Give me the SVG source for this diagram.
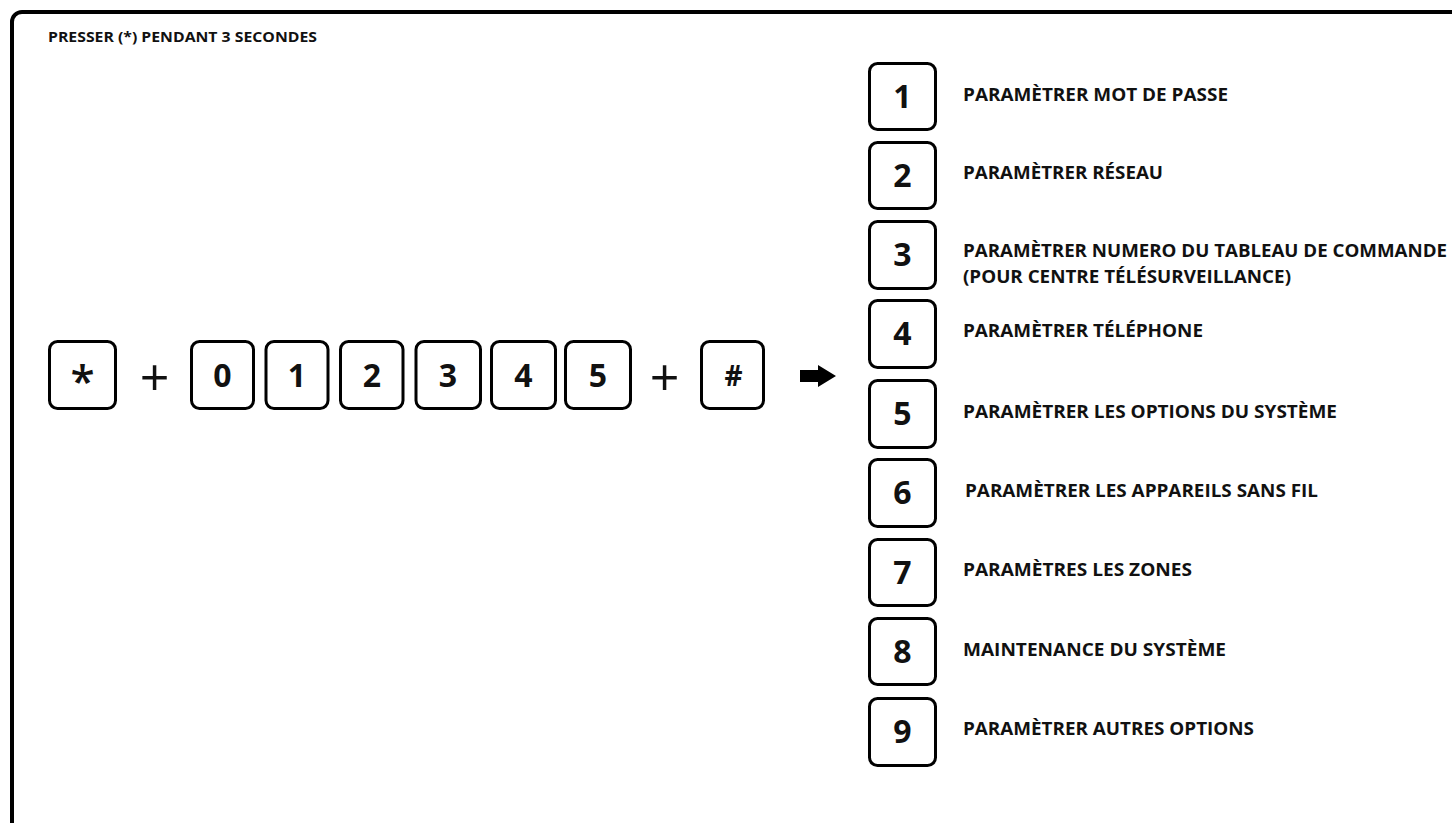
<svg xmlns="http://www.w3.org/2000/svg" width="1452" height="823" viewBox="0 0 1452 823">
<style>
.frame{fill:none;stroke:#000;stroke-width:4}
.key{fill:#fff;stroke:#000;stroke-width:3}
.d{font-family:"Open Sans","Noto Sans",sans-serif;font-weight:700;font-size:32px;fill:#111;text-anchor:middle}
.star{font-size:44px;font-weight:600}
.hash{font-size:28px}
.lab{font-family:"Open Sans","Noto Sans",sans-serif;font-weight:700;font-size:18px;fill:#111}
.top{font-family:"Open Sans","Noto Sans",sans-serif;font-weight:700;font-size:14.5px;fill:#111}
.plus{font-family:"Open Sans","Noto Sans",sans-serif;font-weight:400;font-size:52px;fill:#111;text-anchor:middle}
</style>
<rect width="1452" height="823" fill="#fff"/>
<rect class="frame" x="12" y="12" width="1470" height="840" rx="10"/>
<text class="top" x="48" y="42" textLength="269" lengthAdjust="spacingAndGlyphs">PRESSER (*) PENDANT 3 SECONDES</text>

<g id="key-star"><rect class="key" x="49.5" y="341.5" width="66" height="67" rx="8"/><text class="d star" x="82.5" y="397">*</text></g>
<text class="plus" x="154.5" y="396">+</text>
<g id="key-0"><rect class="key" x="191.5" y="341.5" width="62" height="67" rx="8"/><text class="d" x="222.5" y="387">0</text></g>
<g id="key-1"><rect class="key" x="266" y="341.5" width="62" height="67" rx="8"/><text class="d" x="297" y="387">1</text></g>
<g id="key-2"><rect class="key" x="340.5" y="341.5" width="62.5" height="67" rx="8"/><text class="d" x="372" y="387">2</text></g>
<g id="key-3"><rect class="key" x="416" y="341.5" width="64.5" height="67" rx="8"/><text class="d" x="448" y="387">3</text></g>
<g id="key-4"><rect class="key" x="491.5" y="341.5" width="64" height="67" rx="8"/><text class="d" x="523.5" y="387">4</text></g>
<g id="key-5"><rect class="key" x="565.5" y="341.5" width="65" height="67" rx="8"/><text class="d" x="598" y="387">5</text></g>
<text class="plus" x="664.5" y="396">+</text>
<g id="key-hash"><rect class="key" x="701.5" y="341.5" width="62" height="67" rx="8"/><text class="d hash" x="733.5" y="386">#</text></g>
<g id="connectors"><polygon points="800,370 818,370 818,365 836,376 818,387 818,382 800,382" fill="#000"/></g>

<g id="opt-1"><rect class="key" x="869.5" y="63.5" width="66" height="66" rx="8"/><text class="d" x="902.5" y="108">1</text><text class="lab" x="963" y="101" textLength="265" lengthAdjust="spacingAndGlyphs">PARAMÈTRER MOT DE PASSE</text></g>
<g id="opt-2"><rect class="key" x="869.5" y="142.5" width="66" height="66" rx="8"/><text class="d" x="902.5" y="187">2</text><text class="lab" x="963" y="179" textLength="200" lengthAdjust="spacingAndGlyphs">PARAMÈTRER RÉSEAU</text></g>
<g id="opt-3"><rect class="key" x="869.5" y="221.5" width="66" height="67" rx="8"/><text class="d" x="902.5" y="266">3</text><text class="lab" x="963" y="257" textLength="484" lengthAdjust="spacingAndGlyphs">PARAMÈTRER NUMERO DU TABLEAU DE COMMANDE</text><text class="lab" x="963" y="283" textLength="328" lengthAdjust="spacingAndGlyphs">(POUR CENTRE TÉLÉSURVEILLANCE)</text></g>
<g id="opt-4"><rect class="key" x="869.5" y="300.5" width="66" height="67" rx="8"/><text class="d" x="902.5" y="345">4</text><text class="lab" x="963" y="337" textLength="240" lengthAdjust="spacingAndGlyphs">PARAMÈTRER TÉLÉPHONE</text></g>
<g id="opt-5"><rect class="key" x="869.5" y="380.5" width="66" height="67" rx="8"/><text class="d" x="902.5" y="425">5</text><text class="lab" x="963" y="418" textLength="374" lengthAdjust="spacingAndGlyphs">PARAMÈTRER LES OPTIONS DU SYSTÈME</text></g>
<g id="opt-6"><rect class="key" x="869.5" y="459.5" width="66" height="67" rx="8"/><text class="d" x="902.5" y="504">6</text><text class="lab" x="965" y="497" textLength="353" lengthAdjust="spacingAndGlyphs">PARAMÈTRER LES APPAREILS SANS FIL</text></g>
<g id="opt-7"><rect class="key" x="869.5" y="539.5" width="66" height="66" rx="8"/><text class="d" x="902.5" y="584">7</text><text class="lab" x="963" y="576" textLength="229" lengthAdjust="spacingAndGlyphs">PARAMÈTRES LES ZONES</text></g>
<g id="opt-8"><rect class="key" x="869.5" y="618.5" width="66" height="66" rx="8"/><text class="d" x="902.5" y="663">8</text><text class="lab" x="963" y="656" textLength="263" lengthAdjust="spacingAndGlyphs">MAINTENANCE DU SYSTÈME</text></g>
<g id="opt-9"><rect class="key" x="869.5" y="698.5" width="66" height="67" rx="8"/><text class="d" x="902.5" y="743">9</text><text class="lab" x="963" y="735" textLength="291" lengthAdjust="spacingAndGlyphs">PARAMÈTRER AUTRES OPTIONS</text></g>
</svg>
